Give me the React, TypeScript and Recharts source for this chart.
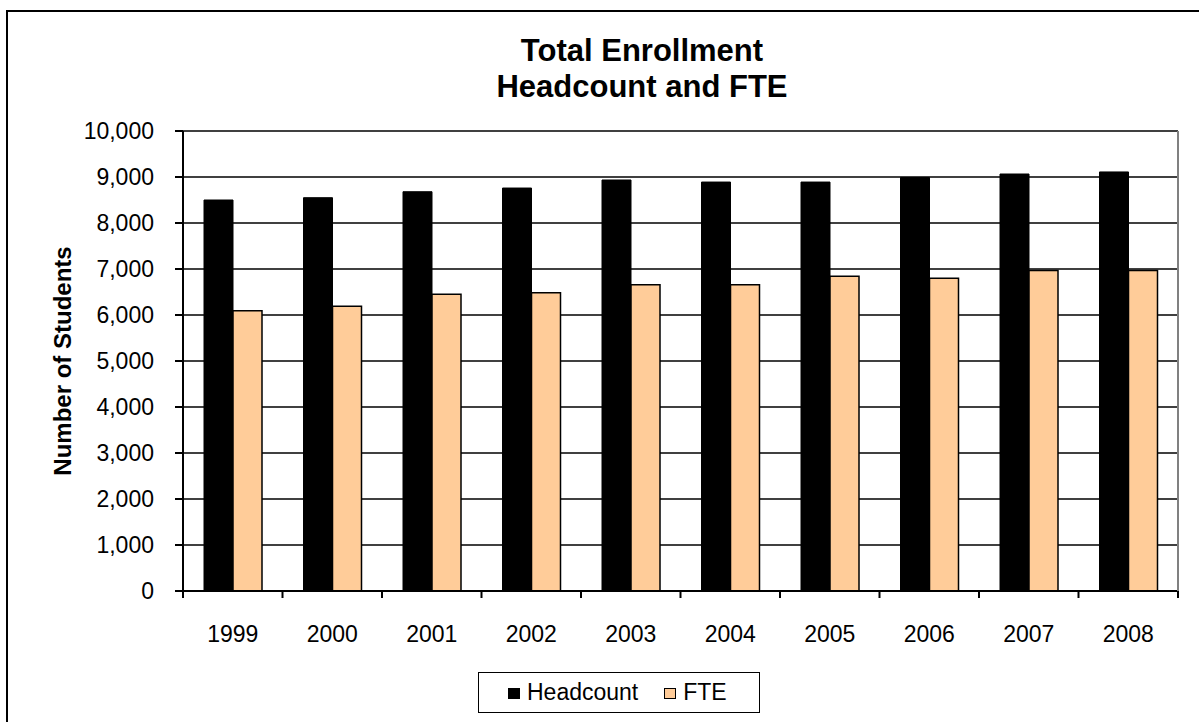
import React from 'react';
import { BarChart, Bar, XAxis, YAxis, CartesianGrid, Legend } from 'recharts';

const years = ['1999', '2000', '2001', '2002', '2003', '2004', '2005', '2006', '2007', '2008'];
const headcount = [8500, 8550, 8680, 8760, 8935, 8890, 8890, 8990, 9065, 9110];
const fte = [6090, 6190, 6450, 6485, 6660, 6660, 6840, 6800, 6970, 6970];
const yTicks = [0, 1000, 2000, 3000, 4000, 5000, 6000, 7000, 8000, 9000, 10000];
const titleLines = ['Total Enrollment', 'Headcount and FTE'];
const yLabel = 'Number of Students';
const seriesOrder = ['Headcount', 'FTE'];

const data = years.map((y, i) => ({ year: y, Headcount: headcount[i], FTE: fte[i] }));

const FONT = '"Liberation Sans", Arial, sans-serif';
const CHART_W = 1199;
const CHART_H = 722;
const Y_W = 183;
const M_RIGHT = 20;
const M_TOP = 131;
const X_H = 80;
const M_BOTTOM = CHART_H - 591 - X_H;
const PLOT_W = CHART_W - M_RIGHT - Y_W - 1;
const BAND = PLOT_W / years.length;

const XTick = (props: any) => {
  const { x, y, payload, index } = props;
  const half = BAND / 2;
  return (
    <g>
      <line x1={x - half} x2={x - half} y1={y} y2={y + 7} stroke="#000" strokeWidth={2} />
      {index === years.length - 1 && (
        <line x1={x + half} x2={x + half} y1={y} y2={y + 7} stroke="#000" strokeWidth={2} />
      )}
      <text x={x} y={y + 51} textAnchor="middle" fontSize={23} fontFamily={FONT} fill="#000">
        {payload.value}
      </text>
    </g>
  );
};

const LegendContent = (props: any) => {
  const payload = [...(props.payload || [])].sort(
    (a: any, b: any) => seriesOrder.indexOf(a.value) - seriesOrder.indexOf(b.value)
  );
  return (
    <div
      style={{
        boxSizing: 'border-box',
        width: 282,
        height: 41,
        border: '1.5px solid #000',
        display: 'flex',
        alignItems: 'center',
        paddingLeft: 29,
        fontFamily: FONT,
        fontSize: 23,
        color: '#000',
        background: '#fff',
      }}
    >
      {payload.map((p: any, i: number) => (
        <div key={i} style={{ display: 'flex', alignItems: 'center', marginRight: 26 }}>
          <div
            style={{
              width: 12,
              height: 11,
              background: p.payload?.fill ?? p.color,
              border: '1px solid #000',
              boxSizing: 'border-box',
              marginRight: 7,
              marginTop: 2,
            }}
          />
          <span>{p.value}</span>
        </div>
      ))}
    </div>
  );
};

const YLabel = (props: any) => {
  const vb = props.viewBox || { x: 0, y: M_TOP, width: Y_W, height: 460 };
  const cx = vb.x + 62;
  const cy = vb.y + vb.height / 2;
  return (
    <text
      x={cx}
      y={cy}
      transform={`rotate(-90 ${cx} ${cy})`}
      textAnchor="middle"
      dominantBaseline="central"
      fontSize={24}
      fontWeight="bold"
      fontFamily={FONT}
      fill="#000"
    >
      {yLabel}
    </text>
  );
};

export default function App() {
  return (
    <div
      style={{
        position: 'absolute',
        left: 0,
        top: 0,
        width: CHART_W,
        height: CHART_H,
        overflow: 'hidden',
        background: '#fff',
        fontFamily: FONT,
      }}
    >
      <div
        style={{
          position: 'absolute',
          left: 6,
          top: 10,
          width: CHART_W + 20,
          height: CHART_H + 20,
          borderLeft: '2px solid #000',
          borderTop: '2px solid #000',
        }}
      />
      <div
        style={{
          position: 'absolute',
          left: 0,
          top: 33,
          width: 1284,
          textAlign: 'center',
          fontSize: 31,
          fontWeight: 'bold',
          lineHeight: '36px',
          color: '#000',
        }}
      >
        {titleLines.map((t, i) => (
          <div key={i}>{t}</div>
        ))}
      </div>
      <div style={{ position: 'absolute', left: 0, top: 0 }}>
        <BarChart
          width={CHART_W}
          height={CHART_H}
          data={data}
          margin={{ top: M_TOP, right: M_RIGHT, bottom: M_BOTTOM, left: 0 }}
          barGap={0}
        >
          <CartesianGrid vertical={false} stroke="#000" strokeWidth={1.5} />
          <XAxis
            dataKey="year"
            height={X_H}
            tickLine={false}
            tickSize={0}
            tickMargin={0}
            axisLine={{ stroke: '#000', strokeWidth: 2 }}
            tick={<XTick />}
            interval={0}
          />
          <YAxis
            width={Y_W}
            domain={[0, 10000]}
            ticks={yTicks}
            interval={0}
            tickFormatter={(v: number) => v.toLocaleString('en-US')}
            tickSize={8}
            tickMargin={21}
            tick={{ fontSize: 23, fill: '#000', fontFamily: FONT }}
            tickLine={{ stroke: '#000', strokeWidth: 2 }}
            axisLine={{ stroke: '#000', strokeWidth: 2 }}
            label={{ content: (p: any) => <YLabel {...p} /> }}
          />
          <YAxis
            yAxisId="right"
            orientation="right"
            width={1}
            domain={[0, 10000]}
            tick={false}
            tickLine={false}
            axisLine={{ stroke: '#808080', strokeWidth: 2 }}
          />
          <Legend
            verticalAlign="middle"
            layout="horizontal"
            wrapperStyle={{ left: 478, top: 672, width: 282, height: 41 }}
            content={<LegendContent />}
          />
          <Bar dataKey="Headcount" fill="#000" stroke="#000" strokeWidth={1} barSize={29} isAnimationActive={false} />
          <Bar dataKey="FTE" fill="#FFCC99" stroke="#000" strokeWidth={1.5} barSize={29} isAnimationActive={false} />
        </BarChart>
      </div>
    </div>
  );
}
